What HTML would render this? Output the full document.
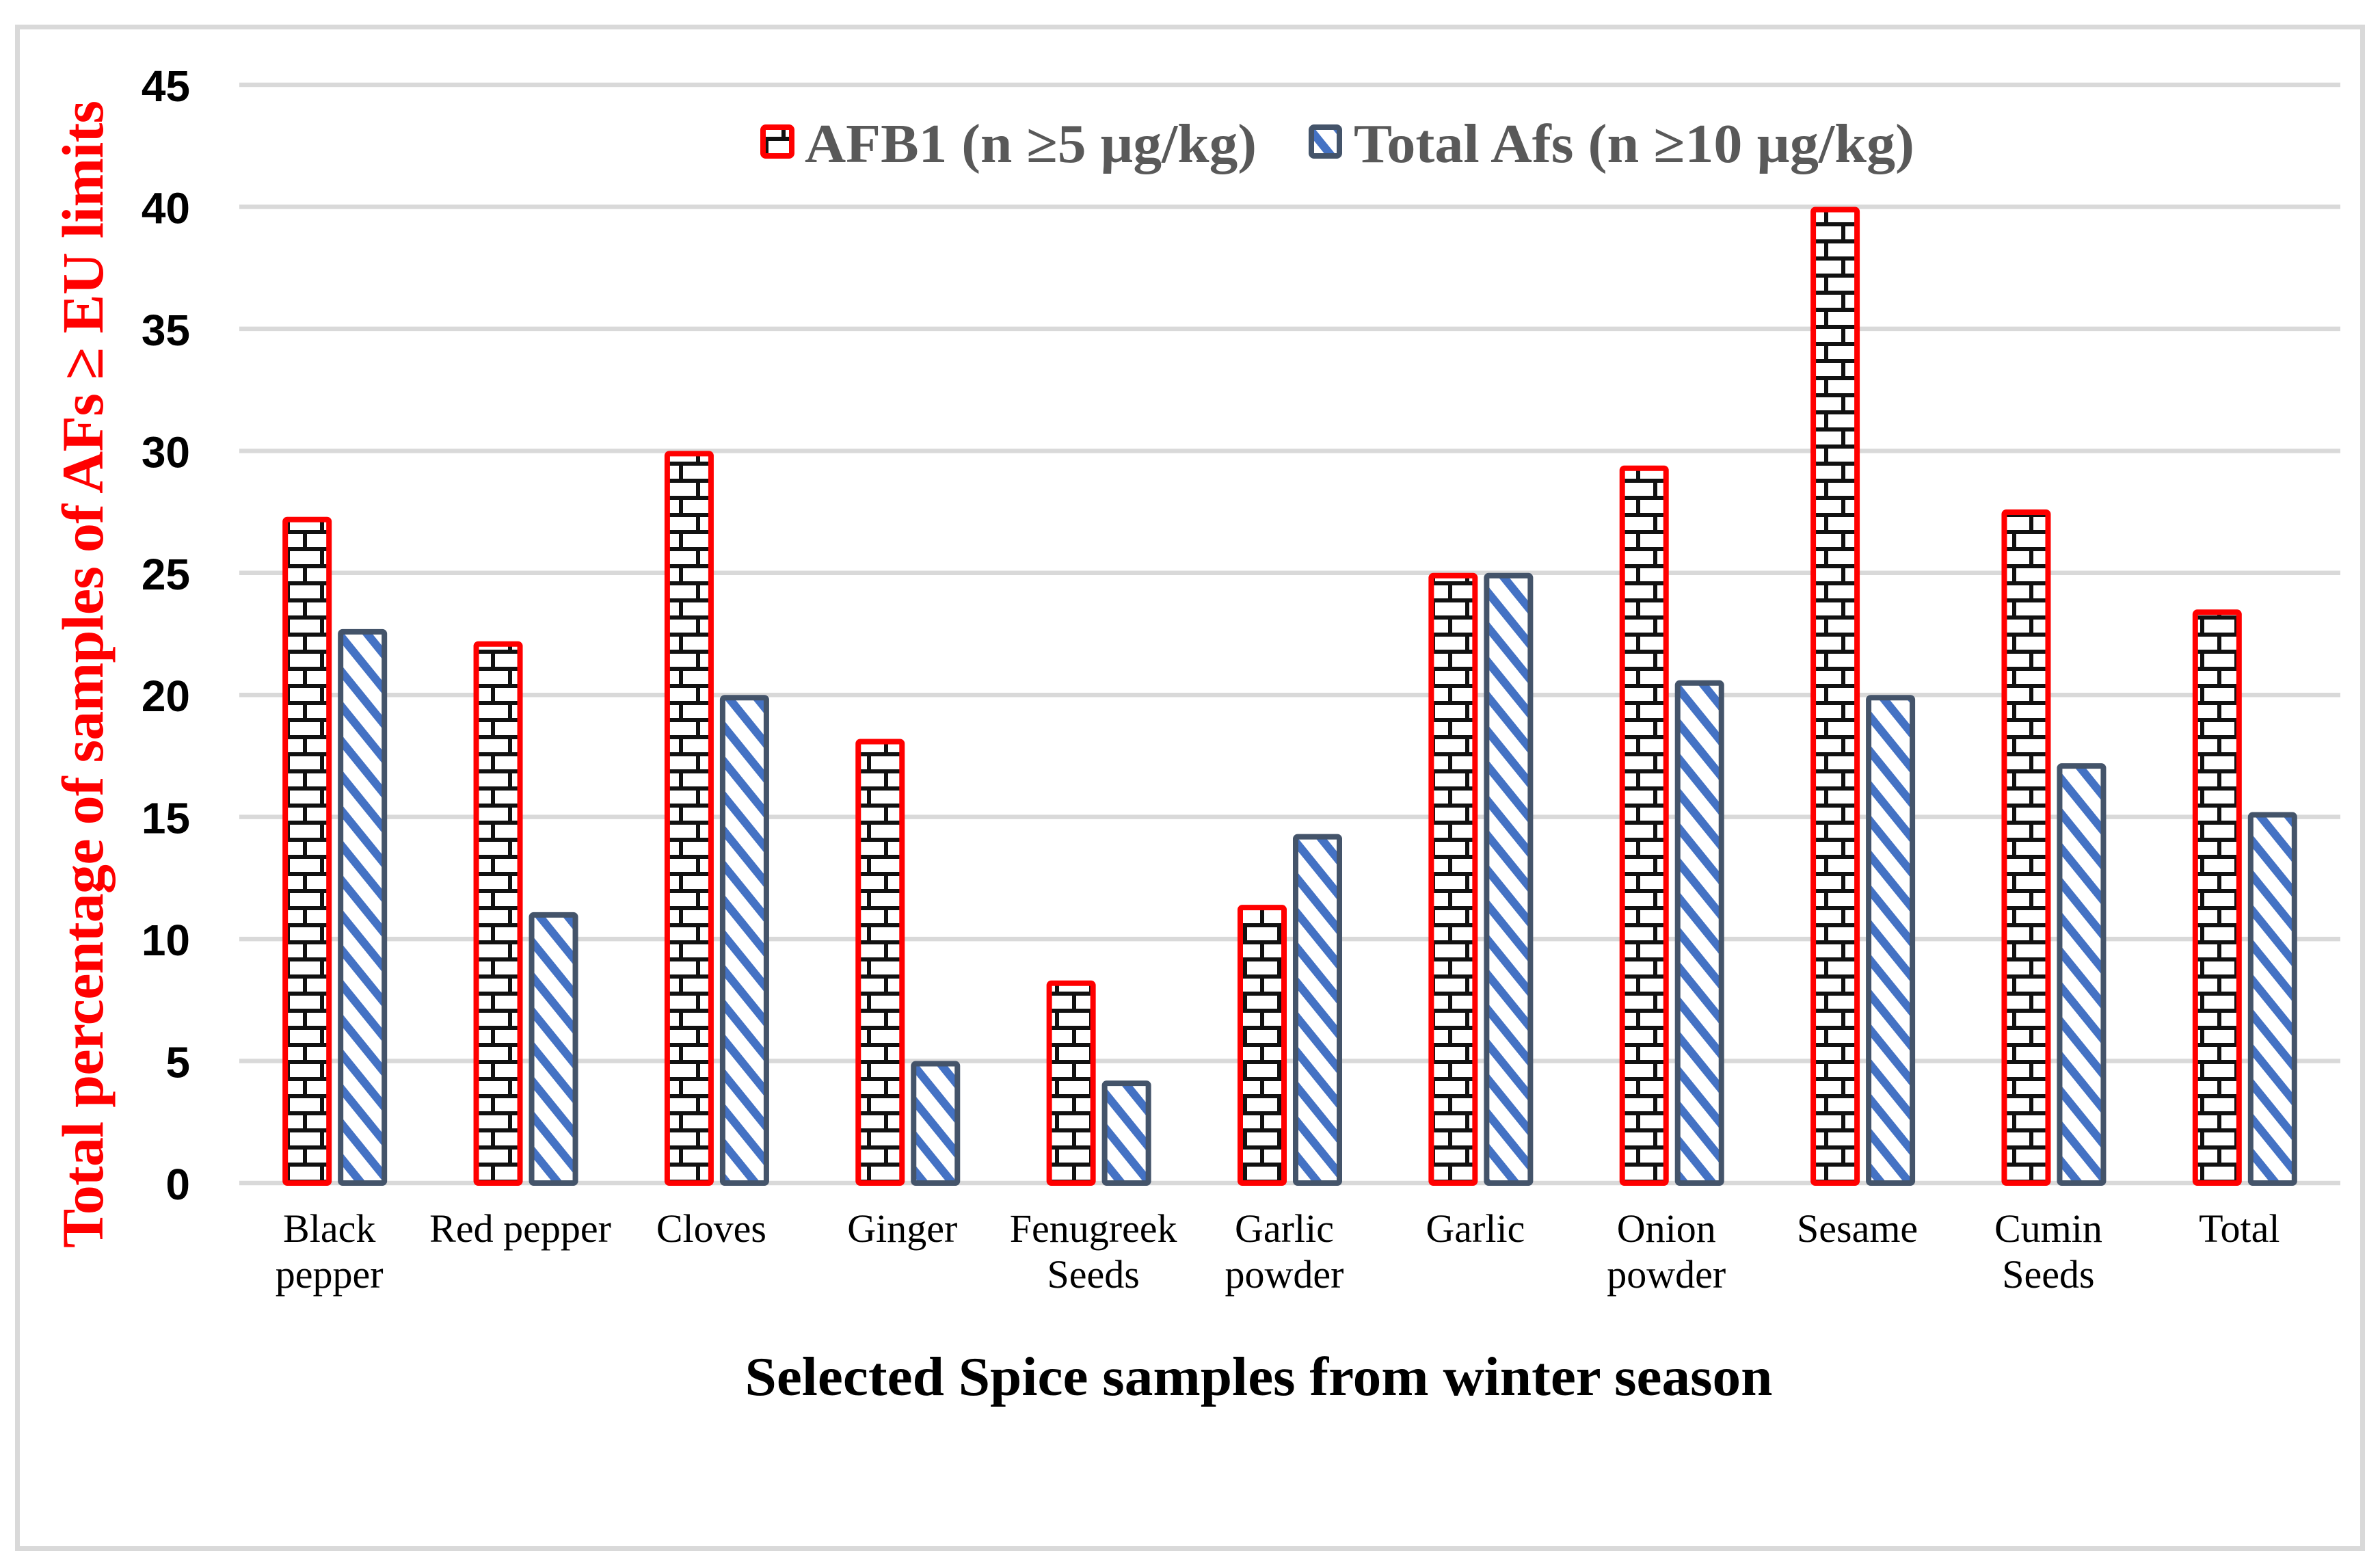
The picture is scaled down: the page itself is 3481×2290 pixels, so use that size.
<!DOCTYPE html>
<html><head><meta charset="utf-8"><style>
html,body{margin:0;padding:0;background:#fff;}
svg{display:block;}
</style></head><body>
<svg id="chart" width="3481" height="2290" viewBox="0 0 3481 2290" xmlns="http://www.w3.org/2000/svg">
<defs>
<pattern id="brick" patternUnits="userSpaceOnUse" width="50" height="50" x="0" y="0">
<rect width="50" height="50" fill="#fff"/>
<rect x="0" y="0" width="50" height="6" fill="#111"/>
<rect x="0" y="25" width="50" height="6" fill="#111"/>
<rect x="18" y="0" width="6" height="25" fill="#111"/>
<rect x="43" y="25" width="6" height="25" fill="#111"/>
</pattern>
<pattern id="stripe" patternUnits="userSpaceOnUse" width="32" height="32" patternTransform="rotate(51)">
<rect width="32" height="32" fill="#fff"/>
<rect x="0" y="0" width="32" height="12" fill="#4472c4"/>
</pattern>
</defs>
<rect x="25.5" y="39.5" width="3430" height="2225" fill="#fff" stroke="#d9d9d9" stroke-width="7"/>
<g id="grid"></g>
<g id="yticks"></g>
<g id="bars"></g>
<g id="xlabels"></g>
<text transform="translate(150,986) rotate(-90)" text-anchor="middle" font-family="Liberation Serif, serif" font-weight="bold" font-size="86" fill="#ff0000" textLength="1678" lengthAdjust="spacing">Total percentage of samples of AFs  ≥ EU limits</text>
<text x="1841" y="2040" text-anchor="middle" font-family="Liberation Serif, serif" font-weight="bold" font-size="80" fill="#000" textLength="1503" lengthAdjust="spacingAndGlyphs">Selected Spice samples from winter season</text>
<g>
<g>
<rect x="1116" y="186" width="42" height="42" rx="4" fill="url(#brick)" stroke="#ff0000" stroke-width="8"/>
<text x="1177" y="237" font-family="Liberation Serif, serif" font-weight="bold" font-size="80" fill="#595959" textLength="661" lengthAdjust="spacingAndGlyphs">AFB1 (n ≥5 µg/kg)</text>
</g>
<g>
<rect x="1918" y="186" width="41" height="42" rx="4" fill="url(#stripe)" stroke="#44546a" stroke-width="8"/>
<text x="1980" y="237" font-family="Liberation Serif, serif" font-weight="bold" font-size="80" fill="#595959" textLength="820" lengthAdjust="spacingAndGlyphs">Total Afs (n ≥10 µg/kg)</text>
</g>
</g>
</svg>
<script>
const categories = [["Black","pepper"],["Red pepper"],["Cloves"],["Ginger"],["Fenugreek","Seeds"],["Garlic","powder"],["Garlic"],["Onion","powder"],["Sesame"],["Cumin","Seeds"],["Total"]];
const afb1Values = [27.3, 22.2, 30, 18.2, 8.3, 11.4, 25, 29.4, 40, 27.6, 23.5];
const totalAfsValues = [22.7, 11.1, 20, 5, 4.2, 14.3, 25, 20.6, 20, 17.2, 15.2];
const yTicks = [0, 5, 10, 15, 20, 25, 30, 35, 40, 45];

const NS = "http://www.w3.org/2000/svg";
const plotL = 350, plotR = 3423, y0 = 1730, yTop = 124, yMax = 45;
const band = (plotR - plotL) / categories.length;
function yScale(v){ return y0 - (v / yMax) * (y0 - yTop); }
function xCenter(i){ return plotL + band * (i + 0.5); }
function mk(tag, attrs){ const e = document.createElementNS(NS, tag); for (const k in attrs) e.setAttribute(k, attrs[k]); return e; }

const grid = document.getElementById('grid');
const yt = document.getElementById('yticks');
yTicks.forEach(t => {
  const y = yScale(t);
  const l = mk('line', {x1: plotL, x2: plotR, y1: y, y2: y, stroke: '#d9d9d9', 'stroke-width': 6.5});
  
  
  grid.appendChild(l);
  const tx = mk('text', {x: 278, y: y + 24, 'text-anchor': 'end', 'font-family': 'Liberation Sans, sans-serif', 'font-weight': 'bold', 'font-size': 64, fill: '#000'});
  tx.textContent = t;
  
  
  yt.appendChild(tx);
});

const bars = document.getElementById('bars');
const xl = document.getElementById('xlabels');
const barW = 72, gap = 9, sw = 8;
categories.forEach((c, i) => {
  const cx = xCenter(i);
  const a = afb1Values[i], b = totalAfsValues[i];
  const ax = cx - gap / 2 - barW, bx = cx + gap / 2;
  const ya = yScale(a), yb = yScale(b);
  const r1 = mk('rect', {x: ax + sw / 2, y: ya + sw / 2, width: barW - sw, height: y0 - ya - sw / 2, rx: 3, fill: 'url(#brick)', stroke: '#ff0000', 'stroke-width': sw});
  
  
  bars.appendChild(r1);
  const r2 = mk('rect', {x: bx + sw / 2, y: yb + sw / 2, width: barW - sw, height: y0 - yb - sw / 2, rx: 3, fill: 'url(#stripe)', stroke: '#44546a', 'stroke-width': sw});
  
  
  bars.appendChild(r2);
  c.forEach((line, j) => {
    const t = mk('text', {x: cx - 8, y: 1816 + j * 67, 'text-anchor': 'middle', 'font-family': 'Liberation Serif, serif', 'font-size': 58, fill: '#000'});
    t.textContent = line;
    
    
    xl.appendChild(t);
  });
});
</script>
</body></html>
